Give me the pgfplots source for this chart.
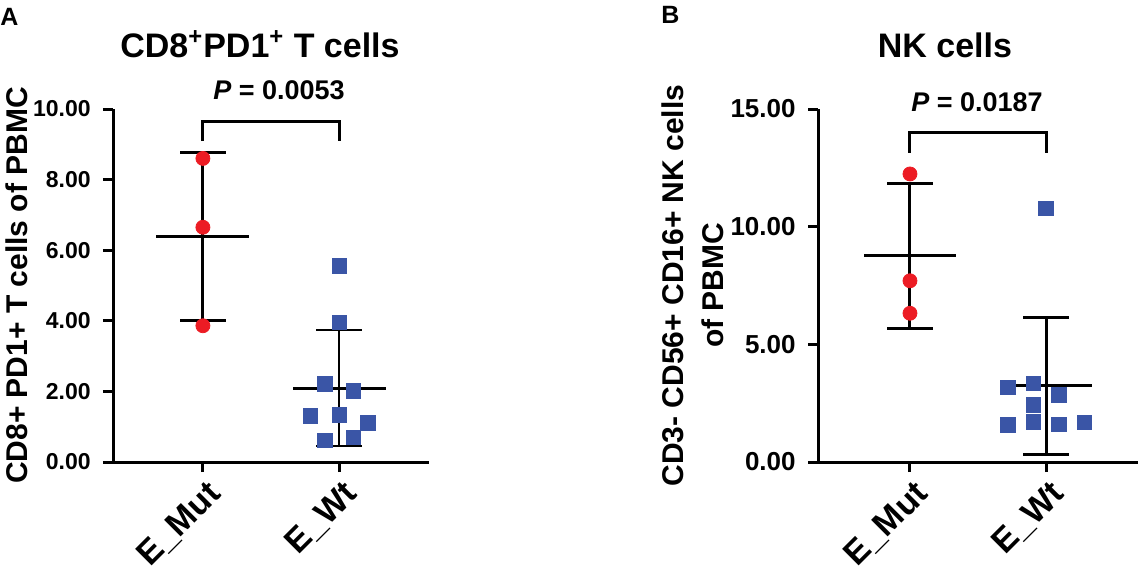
\documentclass[border=0pt]{standalone}
\usepackage{pgfplots}
\pgfplotsset{compat=1.18}
\usepackage{fontspec}
\setmainfont{Liberation Sans}
\definecolor{mred}{HTML}{EC1C24}
\definecolor{mblue}{HTML}{3A55A6}
\pgfplotsset{
  prism/.style={
    scale only axis, height=176.5pt,
    axis x line=bottom, axis y line=left,
    axis line style={line width=1.5pt, -},
    every tick/.style={line width=1.5pt, black},
    major tick length=5pt, tick align=outside,
    xtick={1,2}, xticklabels={E\_Mut, E\_Wt},
    xticklabel style={font=\fontsize{17}{17}\selectfont\bfseries, xshift=1.6pt, yshift=-3.2pt, rotate=45, anchor=north east, inner sep=0pt},
    yticklabel style={/pgf/number format/fixed, /pgf/number format/fixed zerofill, /pgf/number format/precision=2, inner sep=1.5pt, xshift=-4.5pt},
    /pgf/number format/assume math mode=true,
    clip=false,
  },
  ebar/.style={black, line width=1.5pt, line cap=rect, forget plot},
}
\begin{document}
\begin{tikzpicture}
\useasboundingbox (0,0) rectangle (570pt,287.5pt);
% Panel A
\begin{axis}[prism, at={(56.5pt,56.5pt)}, anchor=origin, width=158pt,
  xmin=0.34, xmax=2.66, ymin=0, ymax=10, ytick={0,2,4,6,8,10},
  yticklabel style={font=\fontsize{11.5}{11.5}\selectfont\bfseries},
  ylabel={CD8+ PD1+ T cells of PBMC},
  ylabel style={font=\fontsize{15}{15}\selectfont\bfseries, at={(axis description cs:-0.306,0.5)}, anchor=center},
]
\addplot[ebar] coordinates {(1,4.00) (1,8.77)};
\addplot[ebar] coordinates {(0.84,8.77) (1.16,8.77)};
\addplot[ebar] coordinates {(0.84,4.00) (1.16,4.00)};
\addplot[ebar] coordinates {(0.67,6.38) (1.33,6.38)};
\addplot[ebar, line width=1pt] coordinates {(2,0.44) (2,3.74)};
\addplot[ebar, line width=1pt] coordinates {(1.84,3.74) (2.16,3.74)};
\addplot[ebar, line width=1pt] coordinates {(1.84,0.44) (2.16,0.44)};
\addplot[ebar] coordinates {(1.67,2.09) (2.33,2.09)};
\addplot[ebar, line cap=butt] coordinates {(1,9.09) (1,9.65) (2,9.65) (2,9.09)};
\addplot[only marks, mark=*, mark size=3.5pt, mred, mark options={draw=mred, fill=mred}] coordinates {(1,8.60) (1,6.65) (1,3.86)};
\addplot[only marks, mark=square*, mark size=3.6pt, mblue, mark options={draw=mblue, fill=mblue}] coordinates {
(2,5.55) (2,3.95) (1.895,2.21) (2.105,2.02) (1.79,1.31) (2,1.33) (2.21,1.11) (1.895,0.62) (2.105,0.69)};
\end{axis}
% Panel B
\begin{axis}[prism, at={(409pt,56.5pt)}, anchor=origin, width=160pt,
  xmin=0.324, xmax=2.676, ymin=0, ymax=15, ytick={0,5,10,15},
  yticklabel style={font=\fontsize{13}{13}\selectfont\bfseries},
  ylabel={CD3- CD56+ CD16+ NK cells\\of PBMC},
  ylabel style={font=\fontsize{15}{20}\selectfont\bfseries, align=center, at={(axis description cs:-0.392,0.5)}, anchor=center},
]
\addplot[ebar] coordinates {(1,5.66) (1,11.84)};
\addplot[ebar] coordinates {(0.84,11.84) (1.16,11.84)};
\addplot[ebar] coordinates {(0.84,5.66) (1.16,5.66)};
\addplot[ebar] coordinates {(0.67,8.77) (1.33,8.77)};
\addplot[ebar] coordinates {(2,0.34) (2,6.13)};
\addplot[ebar] coordinates {(1.84,6.13) (2.16,6.13)};
\addplot[ebar] coordinates {(1.84,0.34) (2.16,0.34)};
\addplot[ebar] coordinates {(1.67,3.24) (2.33,3.24)};
\addplot[ebar, line cap=butt] coordinates {(1,13.15) (1,14.0) (2,14.0) (2,13.15)};
\addplot[only marks, mark=*, mark size=3.5pt, mred, mark options={draw=mred, fill=mred}] coordinates {(1,12.24) (1,7.70) (1,6.32)};
\addplot[only marks, mark=square*, mark size=3.6pt, mblue, mark options={draw=mblue, fill=mblue}] coordinates {
(2,10.78) (1.72,3.16) (1.907,3.34) (2.096,2.85) (1.907,2.42) (1.72,1.57) (1.907,1.71) (2.096,1.60) (2.28,1.69)};
\end{axis}
% titles and labels
\node[font=\fontsize{12.5}{12.5}\selectfont\bfseries, anchor=north west, inner sep=0pt] at (0pt,283.5pt) {A};
\node[font=\fontsize{12.5}{12.5}\selectfont\bfseries, anchor=north west, inner sep=0pt] at (330.5pt,284.5pt) {B};
\node[font=\fontsize{17}{17}\selectfont\bfseries, anchor=base, inner sep=0pt] at (130pt,259pt) {CD8\textsuperscript{+}PD1\textsuperscript{+} T cells};
\node[font=\fontsize{13.5}{13.5}\selectfont\bfseries, anchor=base, inner sep=0pt] at (139.5pt,238pt) {\textit{P} = 0.0053};
\node[font=\fontsize{17}{17}\selectfont\bfseries, anchor=base, inner sep=0pt] at (472.5pt,259pt) {NK cells};
\node[font=\fontsize{13.5}{13.5}\selectfont\bfseries, anchor=base, inner sep=0pt] at (488.5pt,232pt) {\textit{P} = 0.0187};
\end{tikzpicture}
\end{document}
